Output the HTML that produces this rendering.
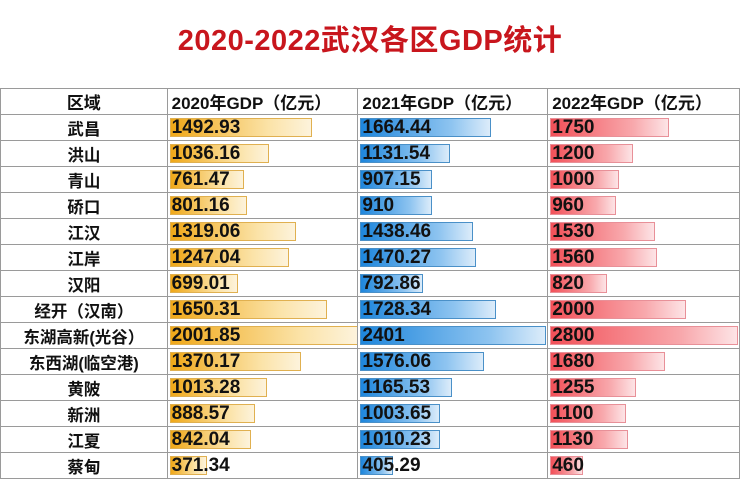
<!DOCTYPE html>
<html><head><meta charset="utf-8"><style>
body{margin:0;width:740px;height:480px;overflow:hidden;background:#fff;font-family:"Liberation Sans","Noto Sans CJK SC",sans-serif;}
.title{position:absolute;left:0;top:17px;width:740px;text-align:center;font-size:29px;font-weight:bold;color:#c8161d;letter-spacing:0.5px}
table{position:absolute;left:0;top:88px;border-collapse:collapse;table-layout:fixed}
td{height:25px;border:1px solid #9a9a9a;padding:0;font-size:19px;font-weight:bold;color:#111;position:relative;white-space:nowrap;overflow:hidden}
td.n{text-align:center;font-size:16.5px}
.b{position:absolute;left:2px;top:3px;bottom:3px}
.y{background:linear-gradient(90deg,#f0a818,#fbe3a8 70%,#fdf3dc);border:1px solid #e0b050}
.u{background:linear-gradient(90deg,#1e86dc,#8ec4f0 70%,#dcecfa);border:1px solid #4a90c8}
.r{background:linear-gradient(90deg,#f25058,#f8a8ac 70%,#fde4e6);border:1px solid #e89098}
.t{position:relative;padding-left:4px}
.h td{font-size:17px;padding-left:4px}
</style></head><body>
<div class="title">2020-2022武汉各区GDP统计</div>
<table>
<colgroup><col style="width:167px"><col style="width:191px"><col style="width:190px"><col style="width:192px"></colgroup>
<tr class="h"><td class="n" style="padding:0">区域</td><td>2020年GDP（亿元）</td><td>2021年GDP（亿元）</td><td>2022年GDP（亿元）</td></tr>
<tr><td class="n">武昌</td><td><div class="b y" style="width:140px"></div><span class="t">1492.93</span></td><td><div class="b u" style="width:129px"></div><span class="t">1664.44</span></td><td><div class="b r" style="width:117px"></div><span class="t">1750</span></td></tr>
<tr><td class="n">洪山</td><td><div class="b y" style="width:97px"></div><span class="t">1036.16</span></td><td><div class="b u" style="width:88px"></div><span class="t">1131.54</span></td><td><div class="b r" style="width:81px"></div><span class="t">1200</span></td></tr>
<tr><td class="n">青山</td><td><div class="b y" style="width:72px"></div><span class="t">761.47</span></td><td><div class="b u" style="width:70px"></div><span class="t">907.15</span></td><td><div class="b r" style="width:67px"></div><span class="t">1000</span></td></tr>
<tr><td class="n">硚口</td><td><div class="b y" style="width:75px"></div><span class="t">801.16</span></td><td><div class="b u" style="width:70px"></div><span class="t">910</span></td><td><div class="b r" style="width:64px"></div><span class="t">960</span></td></tr>
<tr><td class="n">江汉</td><td><div class="b y" style="width:124px"></div><span class="t">1319.06</span></td><td><div class="b u" style="width:111px"></div><span class="t">1438.46</span></td><td><div class="b r" style="width:103px"></div><span class="t">1530</span></td></tr>
<tr><td class="n">江岸</td><td><div class="b y" style="width:117px"></div><span class="t">1247.04</span></td><td><div class="b u" style="width:114px"></div><span class="t">1470.27</span></td><td><div class="b r" style="width:105px"></div><span class="t">1560</span></td></tr>
<tr><td class="n">汉阳</td><td><div class="b y" style="width:66px"></div><span class="t">699.01</span></td><td><div class="b u" style="width:61px"></div><span class="t">792.86</span></td><td><div class="b r" style="width:55px"></div><span class="t">820</span></td></tr>
<tr><td class="n">经开（汉南）</td><td><div class="b y" style="width:155px"></div><span class="t">1650.31</span></td><td><div class="b u" style="width:134px"></div><span class="t">1728.34</span></td><td><div class="b r" style="width:134px"></div><span class="t">2000</span></td></tr>
<tr><td class="n">东湖高新(光谷）</td><td><div class="b y" style="width:186px"></div><span class="t">2001.85</span></td><td><div class="b u" style="width:184px"></div><span class="t">2401</span></td><td><div class="b r" style="width:186px"></div><span class="t">2800</span></td></tr>
<tr><td class="n">东西湖(临空港)</td><td><div class="b y" style="width:129px"></div><span class="t">1370.17</span></td><td><div class="b u" style="width:122px"></div><span class="t">1576.06</span></td><td><div class="b r" style="width:113px"></div><span class="t">1680</span></td></tr>
<tr><td class="n">黄陂</td><td><div class="b y" style="width:95px"></div><span class="t">1013.28</span></td><td><div class="b u" style="width:90px"></div><span class="t">1165.53</span></td><td><div class="b r" style="width:84px"></div><span class="t">1255</span></td></tr>
<tr><td class="n">新洲</td><td><div class="b y" style="width:83px"></div><span class="t">888.57</span></td><td><div class="b u" style="width:78px"></div><span class="t">1003.65</span></td><td><div class="b r" style="width:74px"></div><span class="t">1100</span></td></tr>
<tr><td class="n">江夏</td><td><div class="b y" style="width:79px"></div><span class="t">842.04</span></td><td><div class="b u" style="width:78px"></div><span class="t">1010.23</span></td><td><div class="b r" style="width:76px"></div><span class="t">1130</span></td></tr>
<tr><td class="n">蔡甸</td><td><div class="b y" style="width:35px"></div><span class="t">371.34</span></td><td><div class="b u" style="width:31px"></div><span class="t">405.29</span></td><td><div class="b r" style="width:31px"></div><span class="t">460</span></td></tr>
</table>
</body></html>
